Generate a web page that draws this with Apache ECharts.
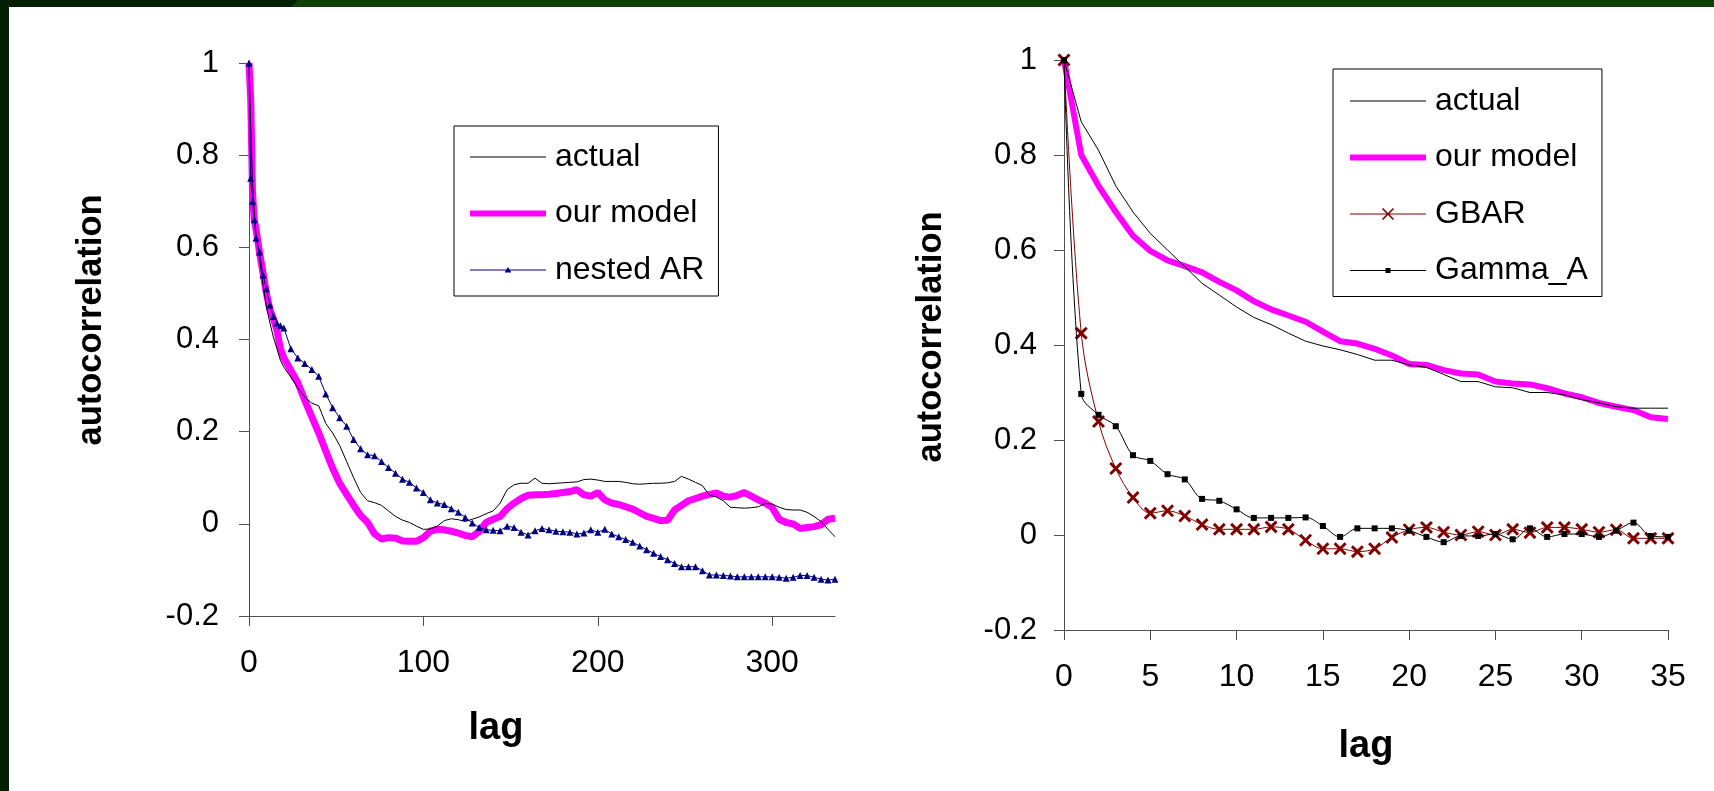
<!DOCTYPE html>
<html>
<head>
<meta charset="utf-8">
<script src="https://cdn.jsdelivr.net/npm/echarts@6/dist/echarts.min.js"></script>
<style>
html,body{margin:0;padding:0;background:#fff;}
#c{width:1714px;height:791px;}
</style>
</head>
<body>
<div id="c"></div>
<script>
// ---------- DATA ----------
const leftLags = [0,1,2,3,4,6,8,10,12,14,16,18,20,
 24,28,32,36,40,44,48,52,56,60,64,68,72,76,80,84,88,92,96,100,104,108,112,116,120,124,128,132,136,140,144,148,152,156,160,164,168,172,176,180,184,188,192,196,200,204,208,212,216,220,224,228,232,236,240,244,248,252,256,260,264,268,272,276,280,284,288,292,296,300,304,308,312,316,320,324,328,332,336];
const leftActual = [1.0,0.86,0.74,0.68,0.63,0.58,0.52,0.47,0.436,0.405,0.38,0.355,0.34,
 0.318,0.295,0.275,0.262,0.256,0.218,0.197,0.17,0.135,0.10,0.068,0.05,0.046,0.04,0.028,0.016,0.008,0.003,-0.005,-0.012,-0.011,-0.005,0.007,0.011,0.009,0.005,0.01,0.015,0.022,0.028,0.045,0.074,0.085,0.088,0.088,0.099,0.088,0.087,0.088,0.089,0.09,0.091,0.096,0.097,0.095,0.092,0.092,0.092,0.09,0.087,0.086,0.087,0.088,0.088,0.089,0.092,0.103,0.097,0.09,0.083,0.062,0.058,0.05,0.036,0.035,0.034,0.035,0.037,0.044,0.043,0.036,0.031,0.03,0.03,0.025,0.016,0.005,-0.012,-0.028];
const leftModel = [1.0,0.92,0.72,0.66,0.64,0.59,0.545,0.50,0.465,0.445,0.42,0.38,0.36,
 0.333,0.306,0.268,0.232,0.197,0.158,0.12,0.088,0.064,0.04,0.018,0.003,-0.022,-0.033,-0.03,-0.031,-0.037,-0.038,-0.038,-0.03,-0.016,-0.012,-0.013,-0.016,-0.02,-0.025,-0.028,-0.016,0.003,0.01,0.016,0.033,0.045,0.055,0.062,0.063,0.063,0.064,0.066,0.068,0.07,0.074,0.063,0.06,0.068,0.052,0.045,0.042,0.037,0.032,0.024,0.016,0.012,0.007,0.008,0.03,0.04,0.05,0.055,0.06,0.064,0.067,0.06,0.058,0.062,0.068,0.06,0.052,0.045,0.035,0.01,0.003,0.0,-0.01,-0.008,-0.006,-0.002,0.01,0.012];
const leftNestedAR = [1.0,0.75,0.70,0.66,0.62,0.59,0.54,0.51,0.475,0.45,0.436,0.43,0.425,
 0.38,0.36,0.348,0.335,0.32,0.282,0.252,0.23,0.212,0.183,0.163,0.15,0.148,0.135,0.122,0.11,0.097,0.09,0.078,0.068,0.052,0.045,0.042,0.033,0.025,0.014,0.002,-0.008,-0.013,-0.014,-0.015,-0.005,-0.008,-0.018,-0.024,-0.015,-0.01,-0.013,-0.016,-0.017,-0.018,-0.022,-0.02,-0.013,-0.018,-0.012,-0.022,-0.028,-0.034,-0.04,-0.048,-0.056,-0.064,-0.071,-0.078,-0.086,-0.093,-0.093,-0.093,-0.102,-0.111,-0.111,-0.112,-0.113,-0.115,-0.115,-0.115,-0.115,-0.115,-0.115,-0.116,-0.118,-0.116,-0.112,-0.112,-0.116,-0.12,-0.122,-0.12];

const rightLags = [0,1,2,3,4,5,6,7,8,9,10,11,12,13,14,15,16,17,18,19,20,21,22,23,24,25,26,27,28,29,30,31,32,33,34,35];
const rightActual = [1,0.87,0.81,0.735,0.68,0.635,0.60,0.565,0.53,0.505,0.48,0.458,0.443,0.425,0.408,0.398,0.39,0.38,0.368,0.368,0.358,0.353,0.338,0.323,0.323,0.312,0.31,0.30,0.30,0.295,0.285,0.278,0.27,0.267,0.267,0.267];
const rightModel = [1,0.80,0.735,0.68,0.63,0.598,0.578,0.566,0.553,0.533,0.515,0.492,0.475,0.462,0.449,0.428,0.408,0.403,0.392,0.378,0.36,0.358,0.347,0.34,0.338,0.323,0.319,0.317,0.309,0.298,0.29,0.278,0.27,0.263,0.248,0.244];
const rightGBAR = [1,0.425,0.239,0.14,0.079,0.046,0.051,0.04,0.022,0.012,0.012,0.012,0.017,0.012,-0.011,-0.029,-0.029,-0.035,-0.029,-0.005,0.011,0.016,0.006,0.0,0.007,0.0,0.012,0.005,0.016,0.016,0.012,0.006,0.011,-0.007,-0.007,-0.007];
const rightGammaA = [1,0.297,0.253,0.229,0.168,0.156,0.128,0.117,0.076,0.072,0.054,0.036,0.036,0.036,0.037,0.019,-0.004,0.014,0.014,0.014,0.009,-0.004,-0.015,-0.002,-0.002,0.002,-0.009,0.014,-0.004,0.002,0.002,-0.004,0.009,0.026,-0.002,-0.004];

const leftXTicks = [0,100,200,300];
const rightXTicks = [0,5,10,15,20,25,30,35];
const yTicks = [-0.2,0,0.2,0.4,0.6,0.8,1];
const axisTitleY = 'autocorrelation';
const axisTitleX = 'lag';

// ---------- CHART ----------
const FONT = "'Liberation Sans', Arial, sans-serif";
const pair = (xs, ys) => xs.map((x, i) => [x, ys[i]]);
const AX = '#505050';
const xMark = 'path://M0,1.6L1.6,0L5,3.4L8.4,0L10,1.6L6.6,5L10,8.4L8.4,10L5,6.6L1.6,10L0,8.4L3.4,5Z';
// legend icons drawn in a 76x12 box (corner anchors keep the box)
const ANCH = 'M0,0L0.01,0L0.01,0.01Z M0,12L0.01,12L0.01,11.99Z ';
const LINE = 'M0,5.5H76V6.5H0Z ';
const iconGBAR = 'path://' + LINE + 'M32,1.1L33.1,0L38,4.9L42.9,0L44,1.1L39.1,6L44,10.9L42.9,12L38,7.1L33.1,12L32,10.9L36.9,6Z';
const iconGamma = 'path://' + ANCH + LINE + 'M35.5,3.5H40.5V8.5H35.5Z';
const iconNested = 'path://' + ANCH + LINE + 'M38,3L41.3,8.6H34.7Z';

function yAxis(gridIndex, margin) {
  return {
    type: 'value', gridIndex, min: yTicks[0], max: yTicks[yTicks.length - 1], interval: 0.2,
    axisLine: { show: true, lineStyle: { color: AX, width: 1 } },
    axisTick: { show: true, inside: false, length: 10, lineStyle: { color: AX } },
    axisLabel: { fontSize: 31, fontFamily: FONT, color: '#000', margin,
      formatter: v => String(Math.round(v * 10) / 10) },
    splitLine: { show: false }
  };
}
function xAxis(gridIndex, ticks, max) {
  return {
    type: 'value', gridIndex, min: ticks[0], max, interval: ticks[1] - ticks[0],
    axisLine: { show: true, onZero: false, lineStyle: { color: AX, width: 1 } },
    axisTick: { show: true, inside: false, length: 10, lineStyle: { color: AX } },
    axisLabel: { fontSize: 32, fontFamily: FONT, color: '#000', margin: 31, showMaxLabel: ticks.includes(max) },
    splitLine: { show: false }
  };
}
const legendCommon = {
  orient: 'vertical', itemWidth: 76, itemHeight: 12, itemGap: 24.5,
  borderColor: '#000', borderWidth: 1, backgroundColor: '#fff',
  selectedMode: false,
  textStyle: { fontSize: 32, fontFamily: FONT, color: '#000', lineHeight: 32, padding: [0, 0, 0, 4] }
};
const lgActual = { name: 'actual', itemStyle: { opacity: 0 }, lineStyle: { width: 1 } };
const lgModel = { name: 'our model', itemStyle: { opacity: 0 }, lineStyle: { width: 6 } };

const chart = echarts.init(document.getElementById('c'), null, { renderer: 'canvas' });
chart.setOption({
  animation: false,
  backgroundColor: '#fff',
  grid: [
    { left: 249, top: 63, width: 586, height: 553 },
    { left: 1064, top: 60, width: 604, height: 570 }
  ],
  xAxis: [xAxis(0, leftXTicks, 336), xAxis(1, rightXTicks, 35)],
  yAxis: [yAxis(0, 30), yAxis(1, 27)],
  legend: [
    Object.assign({}, legendCommon, { left: 454, top: 126, padding: [15, 14, 10, 13],
      data: [lgActual, lgModel, { name: 'nested AR', icon: iconNested }] }),
    Object.assign({}, legendCommon, { left: 1333, top: 69, padding: [16, 14, 10, 14],
      data: [lgActual, lgModel, { name: 'GBAR', icon: iconGBAR }, { name: 'Gamma_A', icon: iconGamma }] })
  ],
  series: [
    { name: 'actual', type: 'line', xAxisIndex: 0, yAxisIndex: 0, data: pair(leftLags, leftActual),
      symbol: 'none', lineStyle: { color: '#000', width: 1 }, itemStyle: { color: '#000' }, z: 3 },
    { name: 'our model', type: 'line', xAxisIndex: 0, yAxisIndex: 0, data: pair(leftLags, leftModel),
      symbol: 'none', lineStyle: { color: '#ff00ff', width: 7 }, itemStyle: { color: '#ff00ff' }, z: 2 },
    { name: 'nested AR', type: 'line', xAxisIndex: 0, yAxisIndex: 0, data: pair(leftLags, leftNestedAR),
      symbol: 'triangle', symbolSize: 7, lineStyle: { color: '#000080', width: 1 }, itemStyle: { color: '#000080' }, z: 4 },

    { name: 'actual', type: 'line', xAxisIndex: 1, yAxisIndex: 1, data: pair(rightLags, rightActual),
      symbol: 'none', lineStyle: { color: '#000', width: 1 }, itemStyle: { color: '#000' }, z: 3 },
    { name: 'our model', type: 'line', xAxisIndex: 1, yAxisIndex: 1, data: pair(rightLags, rightModel),
      symbol: 'none', lineStyle: { color: '#ff00ff', width: 6 }, itemStyle: { color: '#ff00ff' }, z: 2 },
    { name: 'GBAR', type: 'line', xAxisIndex: 1, yAxisIndex: 1, data: pair(rightLags, rightGBAR),
      smooth: 0.35, symbol: xMark, symbolSize: 13, lineStyle: { color: '#800000', width: 1 }, itemStyle: { color: '#800000' }, z: 4 },
    { name: 'Gamma_A', type: 'line', xAxisIndex: 1, yAxisIndex: 1, data: pair(rightLags, rightGammaA),
      smooth: 0.35, symbol: 'rect', symbolSize: 6, lineStyle: { color: '#000', width: 1 }, itemStyle: { color: '#000' }, z: 5 }
  ],
  graphic: [
    { type: 'rect', shape: { x: 0, y: 0, width: 1714, height: 7 }, style: { fill: '#0e4108' }, z: 100 },
    { type: 'polygon', shape: { points: [[0,0],[298,0],[291,7],[0,7]] }, style: { fill: '#042004' }, z: 101 },
    { type: 'rect', shape: { x: 0, y: 0, width: 9, height: 791 }, style: { fill: '#042004' }, z: 101 },
    { type: 'text', x: 91, y: 320, rotation: Math.PI / 2,
      style: { text: axisTitleY, fontSize: 34.5, fontWeight: 'bold', fontFamily: FONT, fill: '#000', align: 'center', verticalAlign: 'middle' } },
    { type: 'text', x: 931, y: 337, rotation: Math.PI / 2,
      style: { text: axisTitleY, fontSize: 34.5, fontWeight: 'bold', fontFamily: FONT, fill: '#000', align: 'center', verticalAlign: 'middle' } },
    { type: 'text', x: 496, y: 729,
      style: { text: axisTitleX, fontSize: 38, fontWeight: 'bold', fontFamily: FONT, fill: '#000', align: 'center', verticalAlign: 'middle' } },
    { type: 'text', x: 1366, y: 747,
      style: { text: axisTitleX, fontSize: 38, fontWeight: 'bold', fontFamily: FONT, fill: '#000', align: 'center', verticalAlign: 'middle' } }
  ]
});
</script>
</body>
</html>
